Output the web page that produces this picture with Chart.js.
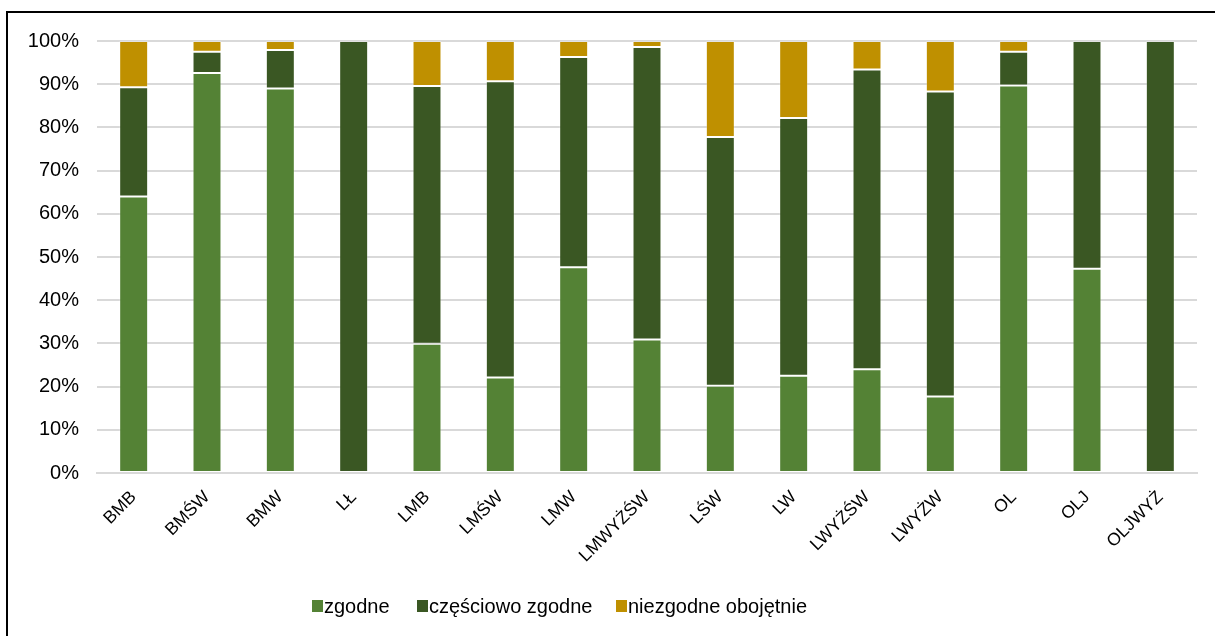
<!DOCTYPE html>
<html>
<head>
<meta charset="utf-8">
<script src="https://cdn.jsdelivr.net/npm/chart.js@4/dist/chart.umd.min.js"></script>
<style>
  html, body { margin: 0; padding: 0; background: #fff; overflow: hidden; }
  #frame {
    position: absolute; left: 6px; top: 11px; width: 1300px; height: 700px;
    border-left: 2px solid #000; border-top: 2px solid #000;
  }
  #wrap { position: absolute; left: 0; top: 0; width: 1215px; height: 636px; }
  #legend {
    position: absolute; left: 0; top: 594px; width: 1215px; height: 24px;
    font-family: 'Liberation Sans', Arial, sans-serif; font-size: 20px; color: #000;
  }
  #legend .item { position: absolute; top: 0; height: 24px; display: flex; align-items: center; white-space: nowrap; }
  #legend .box { width: 11px; height: 12px; margin-right: 1px; }
</style>
</head>
<body>
<div id="frame"></div>
<div id="wrap"><canvas id="chart" width="1215" height="636"></canvas></div>
<div id="legend"></div>
<script>
// Categories (x axis)
const categories = ['BMB', 'BMŚW', 'BMW', 'LŁ', 'LMB', 'LMŚW', 'LMW', 'LMWYŻŚW',
                    'LŚW', 'LW', 'LWYŻŚW', 'LWYŻW', 'OL', 'OLJ', 'OLJWYŻ'];

// Shares in percent
const zgodne      = [64.0, 92.6, 89.0, 0,   29.9, 22.1, 47.6, 30.9, 20.2, 22.5, 24.0, 17.7, 89.7, 47.3, 0];
const czesciowo   = [25.3,  4.9,  8.9, 100, 59.7, 68.6, 48.7, 67.7, 57.6, 59.7, 69.4, 70.6,  7.8, 52.7, 100];
const niezgodne   = [10.7,  2.5,  2.1, 0,   10.4,  9.3,  3.7,  1.4, 22.2, 17.8,  6.6, 11.7,  2.5,  0,   0];

const seriesNames = ['zgodne', 'częściowo zgodne', 'niezgodne obojętnie'];
const seriesColors = ['#548235', '#3A5723', '#BF9000'];
const yTicks = [0, 10, 20, 30, 40, 50, 60, 70, 80, 90, 100];

const FONT = 'Liberation Sans, Arial, sans-serif';
const legendLeft = [312, 417, 616]; // px, where each legend entry starts

const ctx = document.getElementById('chart').getContext('2d');
const chart = new Chart(ctx, {
    type: 'bar',
    data: {
        labels: categories,
        datasets: [zgodne, czesciowo, niezgodne].map((vals, i) => ({
            label: seriesNames[i],
            data: vals,
            backgroundColor: seriesColors[i],
            borderColor: 'rgba(255,255,255,0.25)',
            borderWidth: 1,
            borderSkipped: false,
            categoryPercentage: 1,
            barPercentage: 0.395
        }))
    },
    options: {
        responsive: false,
        animation: false,
        layout: { padding: { left: 0, right: 18, top: 41, bottom: 0 } },
        plugins: {
            tooltip: { enabled: false },
            legend: { display: false }
        },
        scales: {
            x: {
                stacked: true,
                grid: { display: false, drawTicks: false },
                border: { color: '#D9D9D9', width: 2 },
                ticks: {
                    color: '#000',
                    font: { family: FONT, size: 17.5 },
                    maxRotation: 45,
                    minRotation: 45,
                    autoSkip: false,
                    padding: 14
                },
                afterFit: function(scale) { scale.height = 163; }
            },
            y: {
                stacked: true,
                min: 0,
                max: 100,
                afterBuildTicks: function(scale) {
                    scale.ticks = yTicks.map(v => ({ value: v }));
                },
                grid: { color: '#D9D9D9', lineWidth: 2, drawTicks: false },
                border: { display: false },
                ticks: {
                    color: '#000',
                    font: { family: FONT, size: 20 },
                    padding: 18,
                    callback: v => v + '%'
                },
                afterFit: function(scale) { scale.width = 97; }
            }
        }
    }
});

// Legend as HTML, same order and colours as the datasets
const legend = document.getElementById('legend');
chart.data.datasets.forEach((ds, i) => {
    const item = document.createElement('div');
    item.className = 'item';
    item.style.left = legendLeft[i] + 'px';
    const box = document.createElement('span');
    box.className = 'box';
    box.style.background = ds.backgroundColor;
    const txt = document.createElement('span');
    txt.textContent = ds.label;
    item.appendChild(box);
    item.appendChild(txt);
    legend.appendChild(item);
});
</script>
</body>
</html>
